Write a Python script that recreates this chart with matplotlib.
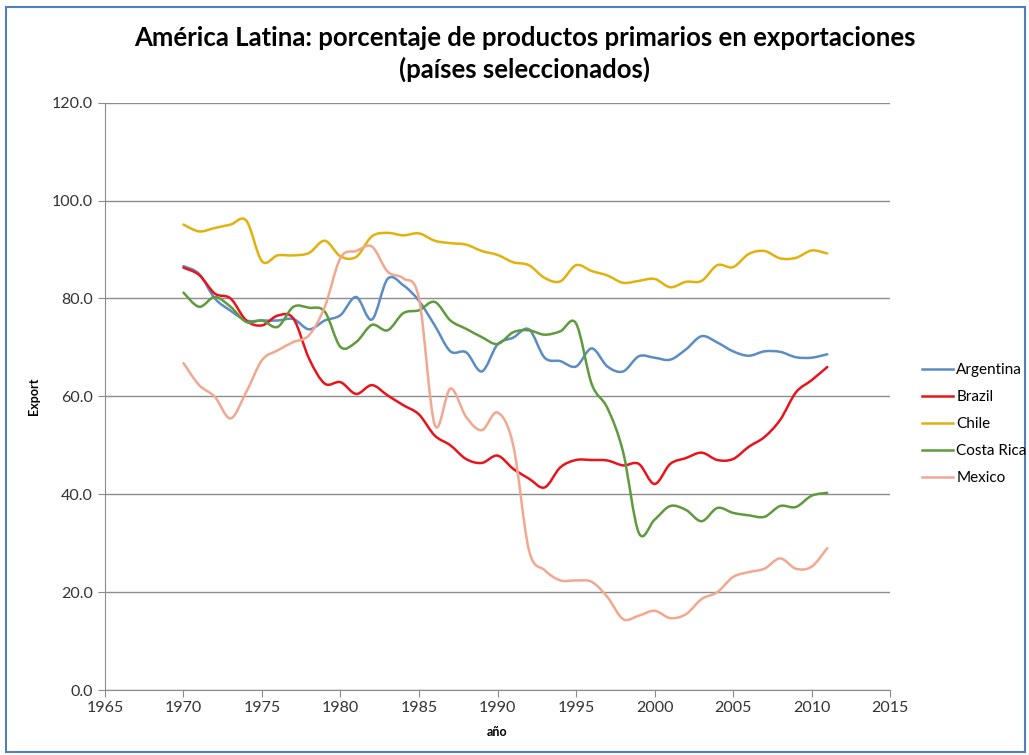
import matplotlib
matplotlib.use("Agg")
import matplotlib.pyplot as plt
from matplotlib.path import Path
from matplotlib.patches import PathPatch, Rectangle
from matplotlib.lines import Line2D
import numpy as np

plt.rcParams['font.family'] = ['Lato', 'DejaVu Sans']

years = list(range(1970, 2012))

argentina = [86.6, 85.0, 80.0, 77.5, 75.5, 75.5, 75.5, 75.8, 73.7, 75.5,
             76.6, 80.3, 75.7, 84.0, 82.7, 79.5, 74.5, 69.2, 69.0, 65.1,
             70.6, 72.0, 73.7, 67.9, 67.2, 66.1, 69.8, 66.1, 65.1, 68.2,
             67.9, 67.5, 69.6, 72.3, 71.0, 69.2, 68.3, 69.2, 69.1, 68.0,
             67.9, 68.6]
brazil = [86.3, 84.8, 81.0, 80.0, 75.5, 74.5, 76.5, 75.9, 67.7, 62.6,
          62.9, 60.5, 62.3, 60.2, 58.2, 56.3, 52.0, 50.0, 47.2, 46.4,
          47.9, 45.2, 43.2, 41.4, 45.5, 47.0, 47.0, 46.9, 45.9, 46.2,
          42.1, 46.2, 47.4, 48.5, 47.0, 47.2, 49.7, 51.7, 55.2, 60.8,
          63.3, 66.0]
chile = [95.1, 93.7, 94.4, 95.1, 95.9, 87.6, 88.8, 88.8, 89.3, 91.8,
         88.6, 88.5, 92.7, 93.4, 92.9, 93.3, 91.8, 91.3, 91.0, 89.7,
         88.9, 87.4, 86.8, 84.2, 83.5, 86.8, 85.6, 84.7, 83.2, 83.6,
         84.0, 82.3, 83.4, 83.6, 86.8, 86.4, 89.1, 89.7, 88.2, 88.3,
         89.8, 89.2]
costa_rica = [81.2, 78.3, 80.3, 78.3, 75.2, 75.5, 74.2, 78.3, 78.1, 77.3,
              70.1, 71.1, 74.6, 73.5, 77.0, 77.6, 79.3, 75.5, 73.8, 72.1,
              70.7, 73.1, 73.5, 72.6, 73.3, 74.9, 62.5, 57.6, 48.6, 32.1,
              34.8, 37.6, 36.8, 34.5, 37.2, 36.2, 35.7, 35.4, 37.6, 37.4,
              39.7, 40.3]
mexico = [66.8, 62.3, 59.9, 55.5, 60.9, 67.4, 69.4, 71.1, 72.5, 78.3,
          88.3, 89.7, 90.6, 85.5, 84.1, 80.0, 54.2, 61.6, 55.8, 53.1,
          56.7, 50.0, 28.6, 24.5, 22.4, 22.4, 22.1, 19.0, 14.5, 15.2,
          16.2, 14.7, 15.5, 18.6, 20.0, 23.1, 24.1, 24.8, 26.9, 24.8,
          25.2, 29.0]

series = ["Argentina", "Brazil", "Chile", "Costa Rica", "Mexico"]
values = [argentina, brazil, chile, costa_rica, mexico]
colors = ["#5b8cc4", "#e8141c", "#e3b10e", "#5f9a3c", "#f2a890"]

xticks = list(range(1965, 2016, 5))
yticks = list(range(0, 121, 20))


def smooth_path(x, y):
    # Excel-like smoothed line: cubic Bezier through every point
    x = np.asarray(x, float)
    y = np.asarray(y, float)
    pts = np.column_stack([x, y])
    n = len(pts)
    verts = [pts[0]]
    codes = [Path.MOVETO]
    for i in range(n - 1):
        p0 = pts[max(i - 1, 0)]
        p1 = pts[i]
        p2 = pts[i + 1]
        p3 = pts[min(i + 2, n - 1)]
        c1 = p1 + (p2 - p0) / 6.0
        c2 = p2 - (p3 - p1) / 6.0
        verts += [c1, c2, p2]
        codes += [Path.CURVE4] * 3
    return Path(verts, codes)


fig = plt.figure(figsize=(10.29, 7.55), dpi=100)
fig.patches.append(Rectangle((0.006, 0.004), 0.99, 0.987, transform=fig.transFigure,
                             fill=False, edgecolor="#4f7fbf", linewidth=1.5))

ax = fig.add_axes([0.102, 0.086, 0.763, 0.778])

handles = []
for name, vals, col in zip(series, values, colors):
    patch = PathPatch(smooth_path(years, vals), facecolor="none", edgecolor=col,
                      linewidth=1.8, capstyle="round", joinstyle="round", zorder=3)
    ax.add_patch(patch)
    handles.append(Line2D([0], [0], color=col, linewidth=1.8))

ax.set_xlim(1965, 2015)
ax.set_ylim(0, 120)
ax.set_xticks(xticks)
ax.set_yticks(yticks)
ax.set_yticklabels([f"{v:.1f}" for v in yticks])
ax.yaxis.grid(True, color="#8c8c8c", linewidth=1.0)
ax.set_axisbelow(True)
for s in ["top", "right"]:
    ax.spines[s].set_visible(False)
for s in ["left", "bottom"]:
    ax.spines[s].set_color("#8c8c8c")
ax.tick_params(axis="both", colors="#8c8c8c", labelcolor="#333333",
               labelsize=11.5, length=5)
ax.tick_params(axis="x", pad=3)

ax.set_xlabel("año", fontsize=9, fontweight="bold", labelpad=8)
ax.set_ylabel("Export", fontsize=9, fontweight="bold", labelpad=9)

fig.suptitle("América Latina: porcentaje de productos primarios en exportaciones\n"
             "(países seleccionados)", fontsize=18.5, fontweight="bold",
             x=0.51, y=0.965, linespacing=1.3)

fig.legend(handles, series, loc="center left", bbox_to_anchor=(0.896, 0.438),
           frameon=False, fontsize=11, handlelength=2.0, handletextpad=0.25,
           labelspacing=0.85, borderaxespad=0, borderpad=0)

fig.savefig("out.png", dpi=100)
